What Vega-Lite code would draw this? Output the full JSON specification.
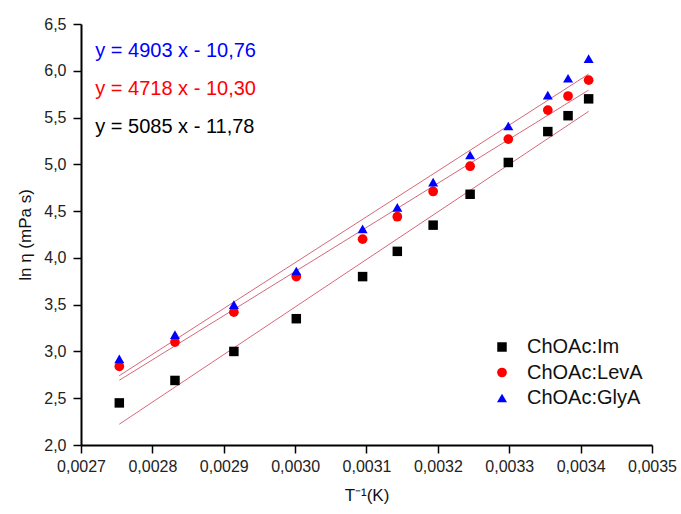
{
  "$schema": "https://vega.github.io/schema/vega-lite/v6.json",
  "width": 571,
  "height": 421,
  "autosize": {"type": "none"},
  "padding": {"left": 81, "top": 24, "right": 29, "bottom": 69},
  "background": "white",
  "config": {
    "locale": {"number": {"decimal": ",", "thousands": ".", "grouping": [3], "currency": ["", " €"]}},
    "font": "Liberation Sans",
    "view": {"stroke": null},
    "axis": {
      "grid": false,
      "domainColor": "#000000",
      "domainWidth": 2,
      "tickColor": "#000000",
      "tickWidth": 1.5,
      "labelColor": "#222222",
      "labelFont": "Liberation Sans",
      "labelFontSize": 16,
      "labelOverlap": false,
      "labelFlush": false,
      "titleFont": "Liberation Sans",
      "titleFontSize": 17,
      "titleFontWeight": "normal",
      "titleColor": "#111111"
    }
  },
  "datasets": {
    "points": [
      {"series": "ChOAc:Im", "invT": 0.00275368, "lnEta": 2.45},
      {"series": "ChOAc:Im", "invT": 0.00283166, "lnEta": 2.69},
      {"series": "ChOAc:Im", "invT": 0.00291418, "lnEta": 3.0},
      {"series": "ChOAc:Im", "invT": 0.00300165, "lnEta": 3.35},
      {"series": "ChOAc:Im", "invT": 0.00309454, "lnEta": 3.8},
      {"series": "ChOAc:Im", "invT": 0.00314317, "lnEta": 4.07},
      {"series": "ChOAc:Im", "invT": 0.00319336, "lnEta": 4.35},
      {"series": "ChOAc:Im", "invT": 0.00324517, "lnEta": 4.68},
      {"series": "ChOAc:Im", "invT": 0.0032987, "lnEta": 5.02},
      {"series": "ChOAc:Im", "invT": 0.00335402, "lnEta": 5.35},
      {"series": "ChOAc:Im", "invT": 0.00338238, "lnEta": 5.52},
      {"series": "ChOAc:Im", "invT": 0.00341122, "lnEta": 5.7},
      {"series": "ChOAc:LevA", "invT": 0.00275368, "lnEta": 2.84},
      {"series": "ChOAc:LevA", "invT": 0.00283166, "lnEta": 3.1},
      {"series": "ChOAc:LevA", "invT": 0.00291418, "lnEta": 3.42},
      {"series": "ChOAc:LevA", "invT": 0.00300165, "lnEta": 3.8},
      {"series": "ChOAc:LevA", "invT": 0.00309454, "lnEta": 4.2},
      {"series": "ChOAc:LevA", "invT": 0.00314317, "lnEta": 4.44},
      {"series": "ChOAc:LevA", "invT": 0.00319336, "lnEta": 4.71},
      {"series": "ChOAc:LevA", "invT": 0.00324517, "lnEta": 4.98},
      {"series": "ChOAc:LevA", "invT": 0.0032987, "lnEta": 5.27},
      {"series": "ChOAc:LevA", "invT": 0.00335402, "lnEta": 5.58},
      {"series": "ChOAc:LevA", "invT": 0.00338238, "lnEta": 5.73},
      {"series": "ChOAc:LevA", "invT": 0.00341122, "lnEta": 5.9},
      {"series": "ChOAc:GlyA", "invT": 0.00275368, "lnEta": 2.92},
      {"series": "ChOAc:GlyA", "invT": 0.00283166, "lnEta": 3.18},
      {"series": "ChOAc:GlyA", "invT": 0.00291418, "lnEta": 3.5},
      {"series": "ChOAc:GlyA", "invT": 0.00300165, "lnEta": 3.86},
      {"series": "ChOAc:GlyA", "invT": 0.00309454, "lnEta": 4.31},
      {"series": "ChOAc:GlyA", "invT": 0.00314317, "lnEta": 4.54},
      {"series": "ChOAc:GlyA", "invT": 0.00319336, "lnEta": 4.81},
      {"series": "ChOAc:GlyA", "invT": 0.00324517, "lnEta": 5.1},
      {"series": "ChOAc:GlyA", "invT": 0.0032987, "lnEta": 5.41},
      {"series": "ChOAc:GlyA", "invT": 0.00335402, "lnEta": 5.74},
      {"series": "ChOAc:GlyA", "invT": 0.00338238, "lnEta": 5.92},
      {"series": "ChOAc:GlyA", "invT": 0.00341122, "lnEta": 6.13}
    ],
    "fits": [
      {"series": "ChOAc:Im", "invT": 0.00275368, "lnEta": 2.2226},
      {"series": "ChOAc:Im", "invT": 0.00341122, "lnEta": 5.566},
      {"series": "ChOAc:LevA", "invT": 0.00275368, "lnEta": 2.692},
      {"series": "ChOAc:LevA", "invT": 0.00341122, "lnEta": 5.794},
      {"series": "ChOAc:GlyA", "invT": 0.00275368, "lnEta": 2.7414},
      {"series": "ChOAc:GlyA", "invT": 0.00341122, "lnEta": 5.9651}
    ],
    "anchor": [{}]
  },
  "layer": [
    {
      "data": {"name": "fits"},
      "mark": {"type": "line", "color": "#d2566a", "strokeWidth": 1, "opacity": 0.9},
      "encoding": {
        "x": {
          "field": "invT", "type": "quantitative",
          "scale": {"domain": [0.0027, 0.0035], "nice": false, "zero": false},
          "axis": {
            "orient": "bottom",
            "values": [0.0027, 0.00275, 0.0028, 0.00285, 0.0029, 0.00295, 0.003, 0.00305, 0.0031, 0.00315, 0.0032, 0.00325, 0.0033, 0.00335, 0.0034, 0.00345, 0.0035],
            "format": ".4f",
            "labelExpr": "abs(datum.value * 10000 - round(datum.value * 10000)) < 0.01 ? datum.label : ''",
            "tickSize": {"condition": {"test": "abs(datum.value * 10000 - round(datum.value * 10000)) < 0.01", "value": 8}, "value": 4},
            "labelPadding": 5,
            "title": "T⁻¹(K)",
            "titlePadding": 13
          }
        },
        "y": {
          "field": "lnEta", "type": "quantitative",
          "scale": {"domain": [2.0, 6.5], "nice": false, "zero": false},
          "axis": {
            "orient": "left",
            "values": [2.0, 2.25, 2.5, 2.75, 3.0, 3.25, 3.5, 3.75, 4.0, 4.25, 4.5, 4.75, 5.0, 5.25, 5.5, 5.75, 6.0, 6.25, 6.5],
            "format": ".1f",
            "labelExpr": "abs(datum.value * 2 - round(datum.value * 2)) < 0.01 ? datum.label : ''",
            "tickSize": {"condition": {"test": "abs(datum.value * 2 - round(datum.value * 2)) < 0.01", "value": 8}, "value": 4},
            "labelPadding": 7,
            "title": "ln η (mPa s)",
            "titlePadding": 9
          }
        },
        "detail": {"field": "series"}
      }
    },
    {
      "data": {"name": "points"},
      "mark": {"type": "point", "filled": true, "opacity": 1},
      "encoding": {
        "x": {"field": "invT", "type": "quantitative"},
        "y": {"field": "lnEta", "type": "quantitative"},
        "color": {
          "field": "series", "type": "nominal",
          "scale": {"domain": ["ChOAc:Im", "ChOAc:LevA", "ChOAc:GlyA"], "range": ["#000000", "#ff0000", "#0000ff"]},
          "legend": {
            "title": null, "orient": "none", "legendX": 411, "legendY": 313,
            "labelFontSize": 20, "labelFont": "Liberation Sans", "labelColor": "#111111",
            "symbolSize": 90, "labelOffset": 15, "rowPadding": 5.5, "padding": 0
          }
        },
        "shape": {
          "field": "series", "type": "nominal",
          "scale": {"domain": ["ChOAc:Im", "ChOAc:LevA", "ChOAc:GlyA"], "range": ["square", "circle", "triangle-up"]}
        },
        "size": {
          "field": "series", "type": "nominal",
          "scale": {"domain": ["ChOAc:Im", "ChOAc:LevA", "ChOAc:GlyA"], "range": [90, 100, 144]},
          "legend": null
        }
      }
    },
    {
      "data": {"name": "anchor"},
      "mark": {"type": "text", "align": "left", "baseline": "middle", "fontSize": 20, "font": "Liberation Sans", "color": "#0000ff", "text": "y = 4903 x - 10,76"},
      "encoding": {
        "x": {"datum": 0.00272, "type": "quantitative"},
        "y": {"datum": 6.21, "type": "quantitative"}
      }
    },
    {
      "data": {"name": "anchor"},
      "mark": {"type": "text", "align": "left", "baseline": "middle", "fontSize": 20, "font": "Liberation Sans", "color": "#ff0000", "text": "y = 4718 x - 10,30"},
      "encoding": {
        "x": {"datum": 0.00272, "type": "quantitative"},
        "y": {"datum": 5.8, "type": "quantitative"}
      }
    },
    {
      "data": {"name": "anchor"},
      "mark": {"type": "text", "align": "left", "baseline": "middle", "fontSize": 20, "font": "Liberation Sans", "color": "#000000", "text": "y = 5085 x - 11,78"},
      "encoding": {
        "x": {"datum": 0.00272, "type": "quantitative"},
        "y": {"datum": 5.4, "type": "quantitative"}
      }
    }
  ]
}
